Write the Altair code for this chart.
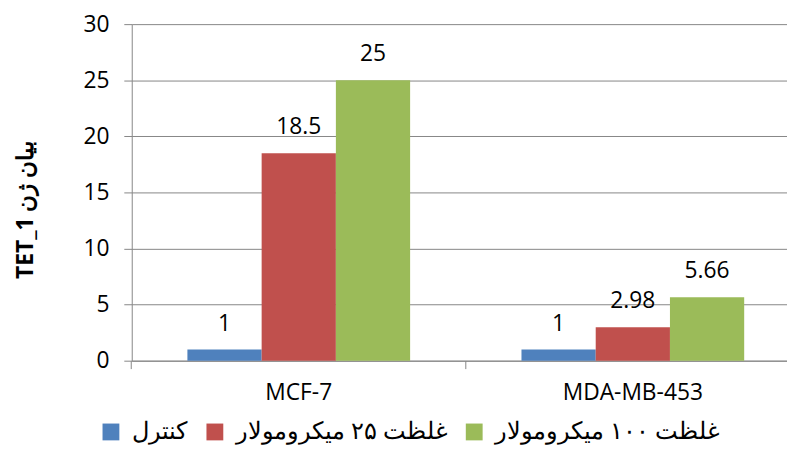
import altair as alt
import pandas as pd

cells = ["MCF-7", "MCF-7", "MCF-7", "MDA-MB-453", "MDA-MB-453", "MDA-MB-453"]
series = ["کنترل", "غلظت ۲۵ میکرومولار", "غلظت ۱۰۰ میکرومولار"] * 2
values = [1, 18.5, 25, 1, 2.98, 5.66]
labels = ["1", "18.5", "25", "1", "2.98", "5.66"]
series_order = ["کنترل", "غلظت ۲۵ میکرومولار", "غلظت ۱۰۰ میکرومولار"]
colors = ["#4F81BD", "#C0504D", "#9BBB59"]
cell_order = ["MCF-7", "MDA-MB-453"]

df = pd.DataFrame({"cell": cells, "series": series, "value": values, "label": labels})

x = alt.X("cell:N", sort=cell_order, title=None,
          scale=alt.Scale(paddingInner=1/3, paddingOuter=0.1474, align=0.5653),
          axis=alt.Axis(labelAngle=0, labelFont="Open Sans", labelFontSize=23,
                        labelColor="#000", labelPadding=13, domainColor="#868686",
                        tickColor="#868686", tickSize=8, bandPosition=-0.25, grid=False))
xo = alt.XOffset("series:N", sort=series_order,
                 scale=alt.Scale(paddingInner=0, paddingOuter=0))

base = alt.Chart(df).encode(x=x, xOffset=xo)

bars = base.mark_bar().encode(
    y=alt.Y("value:Q", scale=alt.Scale(domain=[0, 30]),
            title="TET_1 بیان ژن",
            axis=alt.Axis(values=[0, 5, 10, 15, 20, 25, 30], labelFont="Open Sans",
                          labelFontSize=23, labelColor="#000", labelPadding=15,
                          tickSize=8, tickColor="#868686", domainColor="#868686",
                          gridColor="#868686", titleFont="Open Sans", titleFontSize=23,
                          titleFontWeight="bold", titleColor="#000",
                          titleX=-95, titleY=187, titleAngle=-90)),
    color=alt.Color("series:N", sort=series_order,
                    scale=alt.Scale(domain=series_order, range=colors),
                    legend=alt.Legend(title=None, orient="none", direction="horizontal",
                                      legendX=-33, legendY=400, symbolType="square",
                                      symbolSize=289, symbolStrokeWidth=0,
                                      labelFont="Liberation Serif", labelFontSize=24,
                                      labelLimit=0,
                                      labelColor="#000", columnPadding=17, labelOffset=9))
)

text = base.mark_text(dy=-19, baseline="alphabetic", font="Open Sans", fontSize=23,
                      color="#000").encode(y="value:Q", text="label:N")

chart = (bars + text).properties(
    width=662, height=340,
    autosize=alt.AutoSizeParams(type="none"),
    padding={"left": 125, "top": 14, "right": 0, "bottom": 96},
).configure_view(stroke=None)

chart.save("out.html", embed_options={"renderer": "svg", "actions": False})
